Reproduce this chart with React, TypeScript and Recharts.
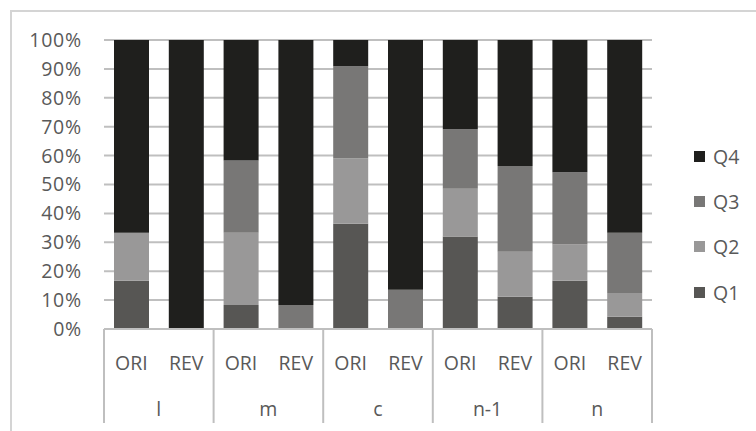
import React from 'react';
import { BarChart, Bar, XAxis, YAxis, CartesianGrid } from 'recharts';

const GROUPS = ['l', 'l', 'm', 'm', 'c', 'c', 'n-1', 'n-1', 'n', 'n'];
const VERSIONS = ['ORI', 'REV', 'ORI', 'REV', 'ORI', 'REV', 'ORI', 'REV', 'ORI', 'REV'];

// share of each quartile per bar, in %
const Q1 = [16.7, 0, 8.3, 0, 36.4, 0, 32.0, 11.2, 16.7, 4.2];
const Q2 = [16.6, 0, 25.0, 0, 22.7, 0, 16.5, 15.5, 12.5, 8.3];
const Q3 = [0, 0, 25.0, 8.3, 31.8, 13.6, 20.6, 29.7, 25.0, 20.8];
const Q4 = [66.7, 100, 41.7, 91.7, 9.1, 86.4, 30.9, 43.6, 45.8, 66.7];

const Y_TICKS = [0, 10, 20, 30, 40, 50, 60, 70, 80, 90, 100];

const SERIES = [
  { key: 'Q1', color: '#575654' },
  { key: 'Q2', color: '#999898' },
  { key: 'Q3', color: '#787776' },
  { key: 'Q4', color: '#1f1f1d' },
];

const data = VERSIONS.map((v, i) => ({
  sub: v,
  group: GROUPS[i],
  Q1: Q1[i],
  Q2: Q2[i],
  Q3: Q3[i],
  Q4: Q4[i],
}));

const FONT = '"Open Sans", sans-serif';
const TEXT = '#595959';
const LINE = '#bfbfbf';
const FS = 19.5;

const CategoryTick = (props: any) => {
  const { x, y, payload, index } = props;
  const half = payload.offset || 27.4;
  const i = index ?? payload.index;
  const isFirst = i % 2 === 0;
  return (
    <g>
      <text x={x} y={y + 33} textAnchor="middle" dominantBaseline="central" fill={TEXT} fontSize={FS} fontFamily={FONT}>
        {payload.value}
      </text>
      {isFirst && (
        <>
          <line x1={x - half} x2={x - half} y1={y} y2={y + 94} stroke={LINE} strokeWidth={2} />
          <text x={x + half} y={y + 79} textAnchor="middle" dominantBaseline="central" fill={TEXT} fontSize={FS} fontFamily={FONT}>
            {data[i].group}
          </text>
        </>
      )}
      {i === data.length - 1 && (
        <line x1={x + half} x2={x + half} y1={y} y2={y + 94} stroke={LINE} strokeWidth={2} />
      )}
    </g>
  );
};

export default function App() {
  return (
    <div style={{ position: 'absolute', left: 0, top: 0, width: 756, height: 431, background: '#fff', overflow: 'hidden' }}>
      <div style={{ position: 'absolute', left: 10, top: 10, width: 760, height: 440, borderLeft: '2px solid #d4d4d4', borderTop: '2px solid #d4d4d4' }} />
      <BarChart width={756} height={431} data={data} margin={{ top: 40, right: 104, bottom: 0, left: 0 }} barSize={35}>
        <CartesianGrid vertical={false} stroke={LINE} strokeWidth={2} />
        <YAxis
          domain={[0, 100]}
          ticks={Y_TICKS}
          width={104}
          axisLine={false}
          tickLine={false}
          tickSize={0}
          tickMargin={22}
          tickFormatter={(v: number) => `${v}%`}
          tick={{ fill: TEXT, fontSize: FS, fontFamily: FONT, letterSpacing: 0.8 }}
        />
        <XAxis
          dataKey="sub"
          height={102}
          axisLine={{ stroke: LINE, strokeWidth: 2 }}
          tickLine={false}
          tickSize={0}
          tickMargin={0}
          interval={0}
          tick={<CategoryTick />}
        />
        {SERIES.map(s => (
          <Bar key={s.key} dataKey={s.key} stackId="a" fill={s.color} isAnimationActive={false} />
        ))}
      </BarChart>
      {[...SERIES].reverse().map((s, i) => (
        <div
          key={s.key}
          style={{ position: 'absolute', left: 694, top: 144 + i * 45.4, height: 24, display: 'flex', alignItems: 'center', fontFamily: FONT, fontSize: FS, color: TEXT }}
        >
          <span style={{ display: 'inline-block', width: 11, height: 11, background: s.color, marginRight: 8 }} />
          <span>{s.key}</span>
        </div>
      ))}
    </div>
  );
}
